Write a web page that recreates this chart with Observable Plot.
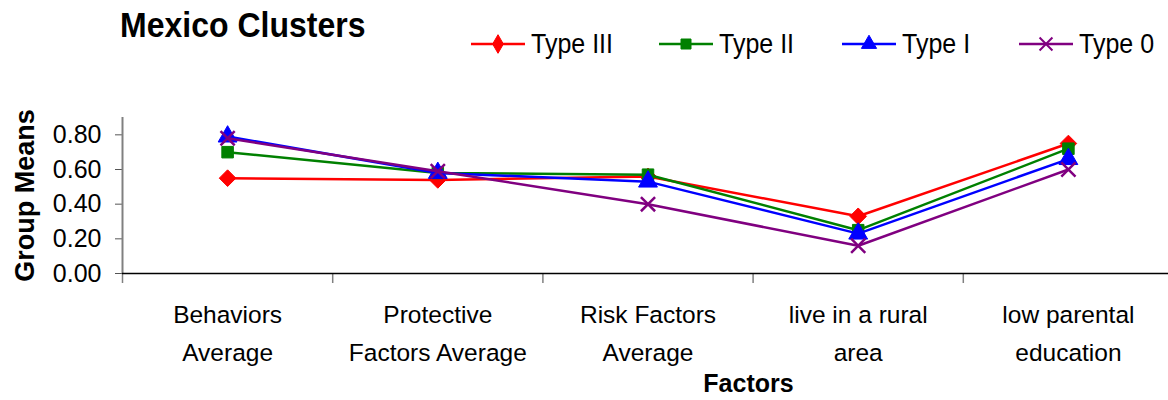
<!DOCTYPE html>
<html><head><meta charset="utf-8">
<script src="https://cdn.jsdelivr.net/npm/d3@7"></script>
<script src="https://cdn.jsdelivr.net/npm/@observablehq/plot@0.6"></script>
<style>
body{margin:0;background:#fff;font-family:"Liberation Sans",Arial,sans-serif;}
#wrap{position:relative;width:1168px;height:400px;overflow:hidden;}
#title{position:absolute;left:120px;top:3px;font-size:32px;font-weight:bold;line-height:40px;color:#000;transform:scaleY(1.1);transform-origin:left top;}
.leg{position:absolute;top:28px;height:30px;display:flex;align-items:center;font-size:25px;color:#000;}
.leg svg{margin-right:6px;}
.leg span{display:inline-block;transform:scaleY(1.1);}
</style></head><body>
<div id="wrap"><div id="chart"></div><div id="title">Mexico Clusters</div><div id="legend"></div></div>
<script>
const categories = ["Behaviors\nAverage","Protective\nFactors Average","Risk Factors\nAverage","live in a rural\narea","low parental\neducation"];
const seriesNames = ["Type III","Type II","Type I","Type 0"];
const typeIII = [0.55,0.54,0.56,0.33,0.75];
const typeII  = [0.70,0.58,0.57,0.25,0.72];
const typeI   = [0.79,0.58,0.53,0.23,0.66];
const type0   = [0.78,0.59,0.40,0.16,0.60];
const yTicks = [0,0.2,0.4,0.6,0.8];
const colors = ["#ff0000","#008000","#0000ff","#800080"];
const symbols = ["diamond2","square","triangle","times"];
const legendLefts = [471,659,842,1019];

const seriesValues = [typeIII,typeII,typeI,type0];
const data = seriesNames.flatMap((s,k)=>seriesValues[k].map((v,i)=>({series:s, x:i+0.5, value:v})));
const dotR = {"Type III":7.5,"Type II":6.5,"Type I":7,"Type 0":6.5};

const marks = [
  Plot.axisY({ticks:yTicks, tickFormat:d3.format(".2f"), tickSize:7, tickPadding:14, fontSize:25, stroke:"#555", fill:"#000", label:null}),
  Plot.axisX({ticks:d3.range(categories.length+1), tickFormat:()=>"", tickSize:10, stroke:"#808080", strokeWidth:1.5, label:null}),
  Plot.axisX({ticks:categories.map((c,i)=>i+0.5), tickFormat:d=>categories[Math.floor(d)], tickSize:0, tickPadding:22, fontSize:24.5, lineHeight:1.56, fill:"#000", label:null}),
  Plot.ruleX([0], {y1:0, y2:0.9, stroke:"#808080", strokeWidth:2}),
  Plot.ruleY([0], {stroke:"#000", strokeWidth:1.5}),
  Plot.text(["Group Means"], {frameAnchor:"left", dx:-97, rotate:-90, textAnchor:"middle", lineAnchor:"middle", fontSize:27, fontWeight:"bold", fill:"#000"}),
  Plot.text(["Factors"], {frameAnchor:"bottom", dx:103, dy:110, lineAnchor:"middle", textAnchor:"middle", fontSize:25, fontWeight:"bold", fill:"#000"})
];
seriesNames.forEach((s,k)=>{
  const d = data.filter(r=>r.series===s);
  marks.push(Plot.line(d, {x:"x", y:"value", stroke:colors[k], strokeWidth:2.5}));
  marks.push(Plot.dot(d, {x:"x", y:"value", symbol:()=>symbols[k], r:dotR[s], fill: symbols[k]==="times"?"none":colors[k], stroke:colors[k], strokeWidth: symbols[k]==="times"?2.5:1}));
});

const chart = Plot.plot({
  width:1168, height:400,
  marginTop:117, marginBottom:127, marginLeft:122, marginRight:0,
  x:{domain:[0,5], range:[122,1173]},
  y:{domain:[0,0.9]},
  symbol:{type:"identity"},
  style:{fontFamily:"'Liberation Sans', Arial, sans-serif", background:"white", overflow:"visible"},
  marks
});
document.getElementById("chart").appendChild(chart);

const d3sym = {diamond2:d3.symbolDiamond, square:d3.symbolSquare, triangle:d3.symbolTriangle, times:d3.symbolTimes};
const leg = d3.select("#legend");
seriesNames.forEach((s,k)=>{
  const item = leg.append("div").attr("class","leg").style("left", legendLefts[k]+"px");
  const svg = item.append("svg").attr("width",54).attr("height",30);
  svg.append("line").attr("x1",0).attr("x2",54).attr("y1",16).attr("y2",16).attr("stroke",colors[k]).attr("stroke-width",2.5);
  const isT = symbols[k]==="times";
  svg.append("path").attr("transform","translate(27,16)").attr("d", d3.symbol(d3sym[symbols[k]], isT?110:100)())
    .attr("fill", isT?"none":colors[k]).attr("stroke", colors[k]).attr("stroke-width", isT?2:1);
  item.append("span").text(s);
});
</script>
</body></html>
